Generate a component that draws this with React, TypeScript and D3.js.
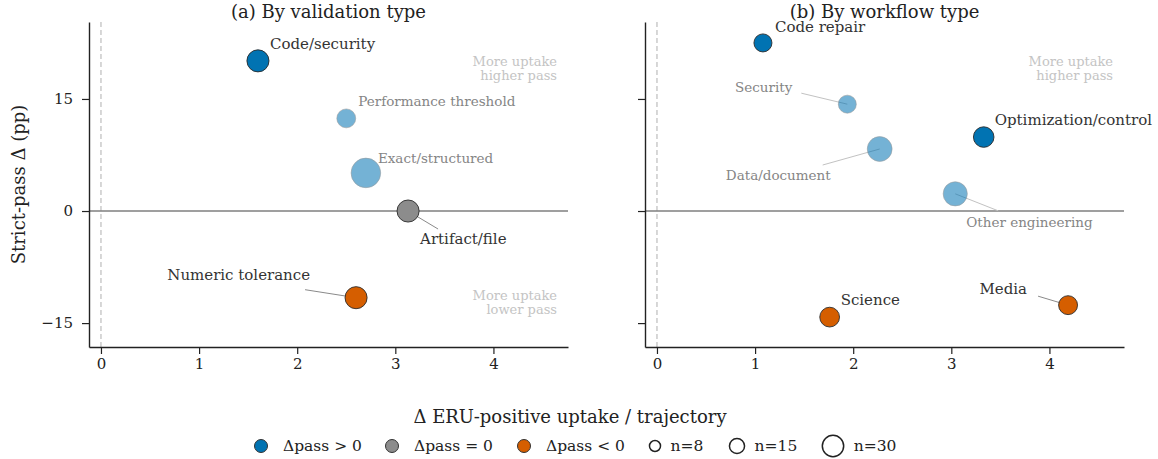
import React, { useEffect, useRef } from "react";
import * as d3 from "d3";

// ── Data ────────────────────────────────────────────────────────────────
const valLabels = ["Code/security", "Performance threshold", "Exact/structured", "Artifact/file", "Numeric tolerance"];
const valUptake = [1.6, 2.5, 2.7, 3.13, 2.6];
const valPass = [20.1, 12.4, 5.1, 0, -11.6];
const valN = [15, 11, 27, 15, 15];
const valSig = [true, false, false, true, true];

const wfLabels = ["Code repair", "Security", "Optimization/control", "Data/document", "Other engineering", "Science", "Media"];
const wfUptake = [1.08, 1.94, 3.33, 2.27, 3.04, 1.76, 4.19];
const wfPass = [22.5, 14.3, 9.9, 8.3, 2.3, -14.2, -12.6];
const wfN = [10, 10, 13, 19, 18, 12, 11];
const wfSig = [true, false, true, false, false, true, true];

const yTicks = [-15, 0, 15];
const xTicks = [0, 1, 2, 3, 4];
const sizeLegend = [8, 15, 30];

// label placement in px relative to the point: [dx, dy, anchor, leaderEnd]
type Off = [number, number, "start" | "end", [number, number] | null];
const valOffsets: Off[] = [
  [12, -17, "start", null],
  [12, -17, "start", null],
  [12, -15, "start", null],
  [12, 28, "start", [30, 18]],
  [-46, -23, "end", [-51, -8]],
];
const wfOffsets: Off[] = [
  [12, -16, "start", null],
  [-55, -17, "end", [-46, -11]],
  [11, -17, "start", null],
  [-49, 26, "end", [-57, 16]],
  [11, 28, "start", [43, 17]],
  [11, -17, "start", null],
  [-41, -16, "end", [-30, -9]],
];

const BLUE = "#0173B2";
const ORANGE = "#D55E00";
const GREY = "#8c8c8c";
const FONT = "'DejaVu Serif', serif";

const W = 1158;
const H = 459;
const TOP = 22;
const BOTTOM = 347;

const colorFor = (v: number) => (v > 0 ? BLUE : v < 0 ? ORANGE : GREY);

const App = () => {
  const svgRef = useRef<SVGSVGElement | null>(null);

  useEffect(() => {
    if (!svgRef.current) return;
    const svg = d3.select(svgRef.current);
    svg.selectAll("*").remove();

    const y = d3.scaleLinear().domain([-18.2, 25.3]).range([BOTTOM, TOP]);
    const rScale = (n: number) => 2.85 * Math.sqrt(n);

    const panels = [
      { left: 89, right: 568, title: "(a) By validation type", labels: valLabels, xs: valUptake, ys: valPass, ns: valN, sig: valSig, offs: valOffsets, showY: true, lower: true },
      { left: 645, right: 1124, title: "(b) By workflow type", labels: wfLabels, xs: wfUptake, ys: wfPass, ns: wfN, sig: wfSig, offs: wfOffsets, showY: false, lower: false },
    ];

    panels.forEach((p) => {
      const x = d3.scaleLinear().domain([-0.122, 4.76]).range([p.left, p.right]);
      const g = svg.append("g");

      // title
      g.append("text")
        .attr("x", (p.left + p.right) / 2).attr("y", 18)
        .attr("text-anchor", "middle").attr("font-size", "18px")
        .attr("font-family", FONT).attr("fill", "#222")
        .text(p.title);

      // reference lines
      g.append("line")
        .attr("x1", x(0)).attr("x2", x(0)).attr("y1", TOP).attr("y2", BOTTOM)
        .attr("stroke", "#bdbdbd").attr("stroke-width", 1.2).attr("stroke-dasharray", "5,3");
      g.append("line")
        .attr("x1", p.left).attr("x2", p.right).attr("y1", y(0)).attr("y2", y(0))
        .attr("stroke", "#7f7f7f").attr("stroke-width", 1.5);

      // quadrant notes
      const note = (lines: string[], cy: number) => {
        lines.forEach((t, i) => {
          g.append("text")
            .attr("x", p.right - 11).attr("y", cy + i * 14)
            .attr("dy", "0.35em")
            .attr("text-anchor", "end").attr("font-size", "13px")
            .attr("font-family", FONT).attr("fill", "#c4c4c4")
            .text(t);
        });
      };
      note(["More uptake", "higher pass"], 61);
      if (p.lower) note(["More uptake", "lower pass"], 295);

      // axes
      const ax = g.append("g").attr("transform", `translate(0,${BOTTOM})`)
        .call(d3.axisBottom(x).tickValues(xTicks).tickFormat(d3.format("d")).tickSize(7).tickSizeOuter(0));
      ax.select(".domain").attr("stroke", "#222").attr("stroke-width", 1.4);
      ax.selectAll(".tick line").attr("stroke", "#222").attr("stroke-width", 1.2);
      ax.selectAll(".tick text").attr("font-size", "15px").attr("font-family", FONT).attr("fill", "#222").attr("y", 11);

      const ay = g.append("g").attr("transform", `translate(${p.left},0)`)
        .call(d3.axisLeft(y).tickValues(yTicks)
          .tickFormat((d) => (p.showY ? (+d < 0 ? "\u2212" + Math.abs(+d) : String(d)) : ""))
          .tickSize(7).tickSizeOuter(0));
      ay.select(".domain").attr("stroke", "#222").attr("stroke-width", 1.4);
      ay.selectAll(".tick line").attr("stroke", "#222").attr("stroke-width", 1.2);
      ay.selectAll(".tick text").attr("font-size", "15px").attr("font-family", FONT).attr("fill", "#222").attr("x", -16);

      // leaders
      p.labels.forEach((_, i) => {
        const le = p.offs[i][3];
        if (!le) return;
        const px = x(p.xs[i]);
        const py = y(p.ys[i]);
        g.append("line")
          .attr("x1", px).attr("y1", py).attr("x2", px + le[0]).attr("y2", py + le[1])
          .attr("stroke", p.sig[i] ? "#8a8a8a" : "#c2c2c2").attr("stroke-width", 1);
      });

      // points (largest first)
      const order = d3.range(p.labels.length).sort((a, b) => p.ns[b] - p.ns[a]);
      order.forEach((i) => {
        g.append("circle")
          .attr("cx", x(p.xs[i])).attr("cy", y(p.ys[i]))
          .attr("r", rScale(p.ns[i]))
          .attr("fill", colorFor(p.ys[i]))
          .attr("fill-opacity", p.sig[i] ? 1 : 0.55)
          .attr("stroke", p.sig[i] ? "#2b2b2b" : "#999")
          .attr("stroke-opacity", p.sig[i] ? 1 : 0.6)
          .attr("stroke-width", 0.9);
      });

      // labels
      p.labels.forEach((lab, i) => {
        const [dx, dy, anchor] = p.offs[i];
        g.append("text")
          .attr("x", x(p.xs[i]) + dx).attr("y", y(p.ys[i]) + dy)
          .attr("dy", "0.35em")
          .attr("text-anchor", anchor)
          .attr("font-size", p.sig[i] ? "15px" : "13.5px")
          .attr("font-family", FONT)
          .attr("fill", p.sig[i] ? "#333" : "#858585")
          .text(lab);
      });
    });

    // y label
    svg.append("text")
      .attr("transform", `translate(19,${(TOP + BOTTOM) / 2}) rotate(-90)`)
      .attr("text-anchor", "middle").attr("dy", "0.35em").attr("font-size", "18px")
      .attr("font-family", FONT).attr("fill", "#222")
      .text("Strict-pass \u0394 (pp)");

    // x label
    svg.append("text")
      .attr("x", 570).attr("y", 417).attr("dy", "0.35em")
      .attr("text-anchor", "middle").attr("font-size", "18px")
      .attr("font-family", FONT).attr("fill", "#222")
      .text("\u0394 ERU-positive uptake / trajectory");

    // legend
    const ly = 446;
    const colorItems = [
      { c: BLUE, t: "\u0394pass > 0", x: 261 },
      { c: GREY, t: "\u0394pass = 0", x: 392 },
      { c: ORANGE, t: "\u0394pass < 0", x: 524 },
    ];
    colorItems.forEach((it) => {
      svg.append("circle").attr("cx", it.x).attr("cy", ly).attr("r", 6.5)
        .attr("fill", it.c).attr("stroke", "#333").attr("stroke-width", 1);
      svg.append("text").attr("x", it.x + 22).attr("y", ly).attr("dy", "0.35em")
        .attr("font-size", "15.5px").attr("font-family", FONT).attr("fill", "#222").text(it.t);
    });
    const sizeX = [655, 737, 833];
    sizeLegend.forEach((n, i) => {
      const r = 1.95 * Math.sqrt(n);
      svg.append("circle").attr("cx", sizeX[i]).attr("cy", ly).attr("r", r)
        .attr("fill", "none").attr("stroke", "#222").attr("stroke-width", 1.5);
      svg.append("text").attr("x", sizeX[i] + r + 10).attr("y", ly).attr("dy", "0.35em")
        .attr("font-size", "15.5px").attr("font-family", FONT).attr("fill", "#222").text(`n=${n}`);
    });
  }, []);

  return <svg ref={svgRef} width={W} height={H} style={{ display: "block", position: "absolute", left: 0, top: 0, background: "#fff" }} />;
};

export default App;
